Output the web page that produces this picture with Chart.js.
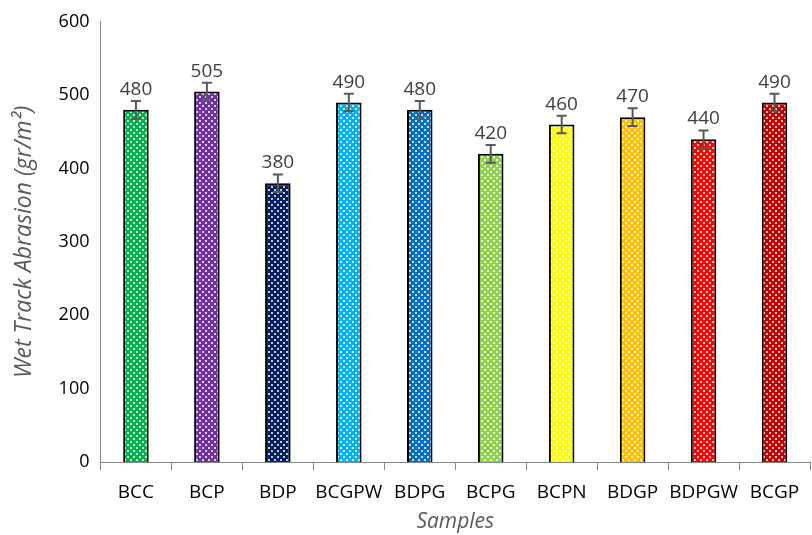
<!DOCTYPE html>
<html>
<head>
<meta charset="utf-8">
<script src="https://cdn.jsdelivr.net/npm/chart.js@4.4.0/dist/chart.umd.min.js"></script>
<style>
  html, body { margin: 0; padding: 0; background: #fff; }
  #wrap { width: 812px; height: 535px; }
</style>
</head>
<body>
<div id="wrap"><canvas id="chart" width="812" height="535"></canvas></div>
<script>
const samples = ['BCC', 'BCP', 'BDP', 'BCGPW', 'BDPG', 'BCPG', 'BCPN', 'BDGP', 'BDPGW', 'BCGP'];
const abrasion = [480, 505, 380, 490, 480, 420, 460, 470, 440, 490];
const errors = [12, 12, 12, 12, 12, 12, 12, 12, 12, 12];
const barColors = ['#00B050', '#7030A0', '#002060', '#00B0F0', '#0070C0', '#92D050', '#FFFF00', '#FFC000', '#FF0000', '#C00000'];

// small dotted fill like the excel pattern
function dotted(color) {
    const c = document.createElement('canvas');
    c.width = 6; c.height = 6;
    const g = c.getContext('2d');
    g.fillStyle = color;
    g.fillRect(0, 0, 6, 6);
    g.fillStyle = 'rgba(255,255,255,0.75)';
    g.fillRect(1, 0, 2, 2);
    g.fillRect(4, 3, 2, 2);
    return g.createPattern(c, 'repeat');
}

const errorBars = {
    id: 'errorBars',
    afterDatasetsDraw(chart) {
        const ctx = chart.ctx;
        const y = chart.scales.y;
        const meta = chart.getDatasetMeta(0);
        ctx.save();
        ctx.strokeStyle = '#595959';
        ctx.lineWidth = 2;
        ctx.fillStyle = '#404040';
        ctx.font = '19px "Open Sans", sans-serif';
        ctx.textAlign = 'center';
        ctx.textBaseline = 'bottom';
        meta.data.forEach((bar, i) => {
            const top = y.getPixelForValue(abrasion[i] + errors[i]);
            const bot = y.getPixelForValue(abrasion[i] - errors[i]);
            ctx.beginPath();
            ctx.moveTo(bar.x, top); ctx.lineTo(bar.x, bot);
            ctx.moveTo(bar.x - 5, top); ctx.lineTo(bar.x + 5, top);
            ctx.moveTo(bar.x - 5, bot); ctx.lineTo(bar.x + 5, bot);
            ctx.stroke();
            ctx.fillText(abrasion[i], bar.x, top - 2);
        });
        ctx.restore();
    }
};

new Chart(document.getElementById('chart'), {
    type: 'bar',
    data: {
        labels: samples,
        datasets: [{
            data: abrasion,
            backgroundColor: barColors.map(dotted),
            borderColor: '#000',
            borderWidth: 2,
            barPercentage: 0.36,
            categoryPercentage: 1
        }]
    },
    options: {
        responsive: false,
        animation: false,
        layout: { padding: { top: 16, right: 2, left: 11, bottom: 0 } },
        plugins: { legend: { display: false }, tooltip: { enabled: false } },
        scales: {
            y: {
                min: 0, max: 600,
                ticks: { stepSize: 100, color: '#000', font: { size: 18, family: '"Open Sans", sans-serif' }, padding: 11 },
                grid: { display: false, drawTicks: false },
                border: { color: '#868686', width: 1 },
                title: {
                    display: true,
                    text: 'Wet Track Abrasion (gr/m²)',
                    color: '#595959',
                    font: { size: 23, style: 'italic', family: '"Open Sans", sans-serif' },
                    padding: { top: 0, bottom: 9 }
                }
            },
            x: {
                ticks: { color: '#000', font: { size: 19, family: '"Open Sans", sans-serif' }, padding: 11, maxRotation: 0, minRotation: 0, autoSkip: false },
                grid: { offset: true, drawOnChartArea: false, tickLength: 8, color: '#868686' },
                border: { color: '#868686', width: 1 },
                title: {
                    display: true,
                    text: 'Samples',
                    color: '#595959',
                    font: { size: 21, style: 'italic', family: '"Open Sans", sans-serif' },
                    padding: { top: -5, bottom: 0 }
                }
            }
        }
    },
    plugins: [errorBars]
});
</script>
</body>
</html>
